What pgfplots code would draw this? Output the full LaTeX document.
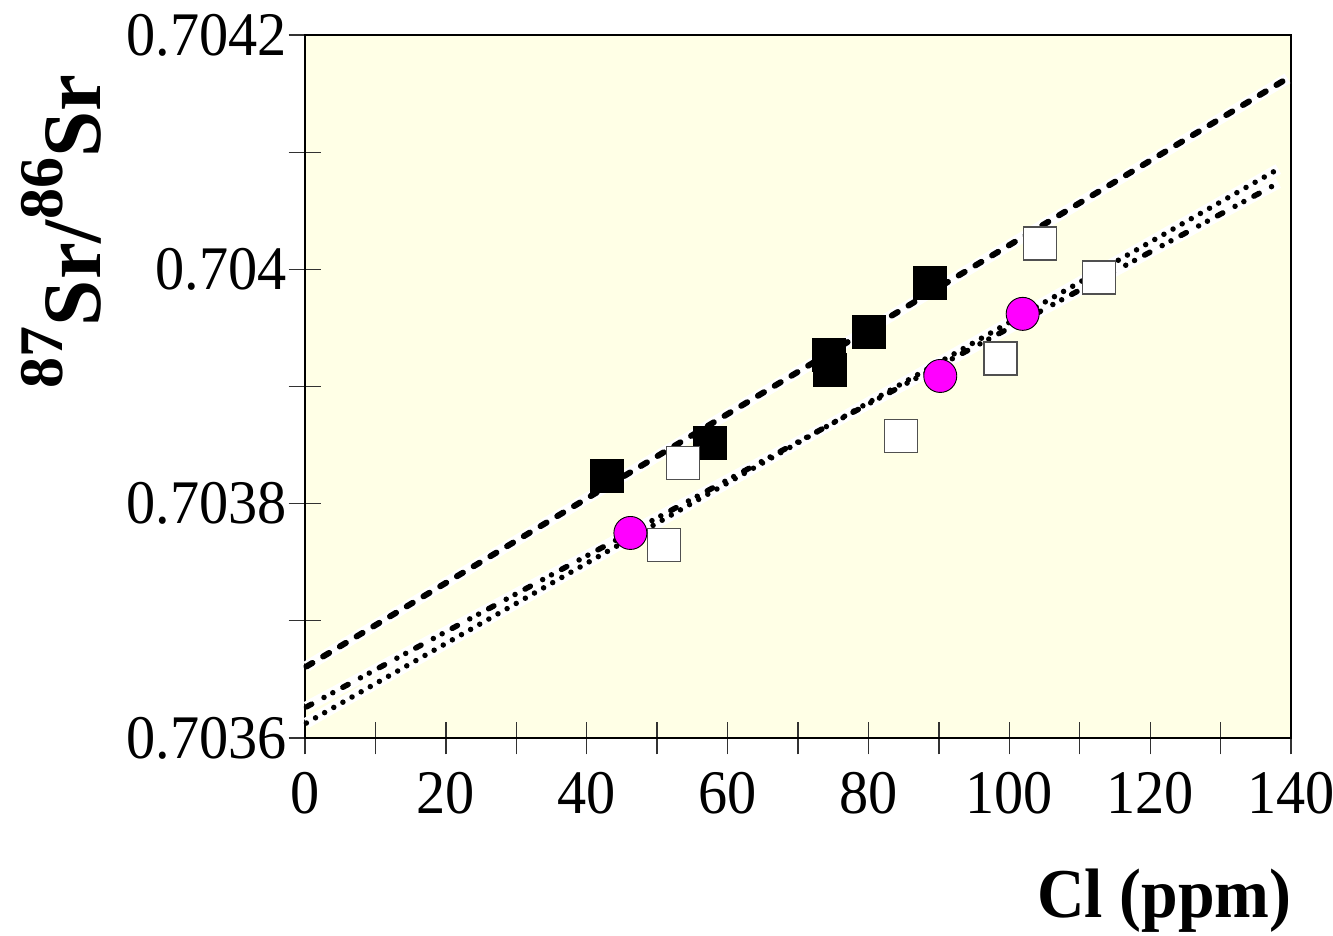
\documentclass[border=0pt]{standalone}
\usepackage{pgfplots}
\pgfplotsset{compat=1.18}
\usepackage{fontspec}
\setmainfont{Liberation Serif}[FakeStretch=0.94]
\newfontfamily\labelfont{Liberation Serif}
\definecolor{bgyellow}{RGB}{255,255,230}
\definecolor{tickgray}{RGB}{50,50,50}
\definecolor{sqgray}{RGB}{80,80,80}
\definecolor{magpink}{RGB}{255,0,255}
\begin{document}
\begin{tikzpicture}
\path[use as bounding box] (0,0) rectangle (1333pt,935pt);
\begin{axis}[
  at={(305pt,197pt)}, anchor=south west,
  scale only axis, width=986pt, height=703pt,
  xmin=0, xmax=140, ymin=0.7036, ymax=0.7042,
  xtick={0,20,...,140}, minor xtick={10,30,...,130},
  ytick={0.7036,0.7038,0.704,0.7042}, minor ytick={0.7037,0.7039,0.7041},
  yticklabels={0.7036,0.7038,0.704,0.7042},
  tick pos=left, tick align=center,
  major tick length=33pt, minor tick length=33pt,
  tick style={line width=1.3pt, color=tickgray},
  axis line style={line width=1.8pt, black},
  axis background/.style={fill=bgyellow},
  /pgf/number format/assume math mode=true,
  ticklabel style={font=\fontsize{62}{62}\selectfont},
  xticklabel style={yshift=-14pt},
  yticklabel style={xshift=2pt},
  clip=false,
]
% regression lines (white halo underneath)
\addplot[white, line width=11pt] coordinates {(0.2,0.703661) (139.5,0.704163)};
\addplot[black, line width=6pt, line cap=round, dash pattern=on 7pt off 12.5pt] coordinates {(0.2,0.703661) (139.5,0.704163)};
\addplot[white, line width=11pt] coordinates {(0.2,0.7036265) (138.2,0.7040737)};
\addplot[white, line width=11pt] coordinates {(0.2,0.7036128) (138.2,0.7040856)};
\addplot[black, line width=5.5pt, line cap=round, dash pattern=on 6pt off 14pt on 0pt off 10pt on 0pt off 11.4pt] coordinates {(0.2,0.7036265) (138.2,0.7040737)};
\addplot[black, line width=5.5pt, line cap=round, dash pattern=on 0pt off 10.5pt] coordinates {(0.2,0.7036128) (138.2,0.7040856)};
% filled squares
\addplot[only marks, mark=square*, mark size=16.5pt, mark options={fill=black, draw=black}] coordinates {
  (42.9,0.703824) (57.5,0.703852) (74.3,0.703927) (74.5,0.703914) (80.1,0.703947) (88.7,0.703989)};
% open squares
\addplot[only marks, mark=square*, mark size=16.5pt, mark options={fill=white, draw=sqgray, line width=1.3pt}] coordinates {
  (53.7,0.703835) (51.0,0.703765) (84.6,0.703858) (98.75,0.703924) (104.4,0.704022) (112.7,0.703993)};
% magenta circles
\addplot[only marks, mark=*, mark size=16.5pt, mark options={fill=magpink, draw=black, line width=0.9pt}] coordinates {
  (46.2,0.703775) (90.2,0.703909) (101.9,0.703962)};
\end{axis}
\node[anchor=base, font=\fontsize{70}{70}\selectfont\bfseries] at (1164.5pt,18pt) {Cl (ppm)};
\node[rotate=90, anchor=base, inner sep=0pt] at (100pt,703.5pt) {\labelfont\bfseries\fontsize{83}{83}\selectfont\raisebox{38pt}{\fontsize{62}{62}\selectfont 87}Sr/\raisebox{38pt}{\fontsize{62}{62}\selectfont 86}Sr};
\end{tikzpicture}
\end{document}
